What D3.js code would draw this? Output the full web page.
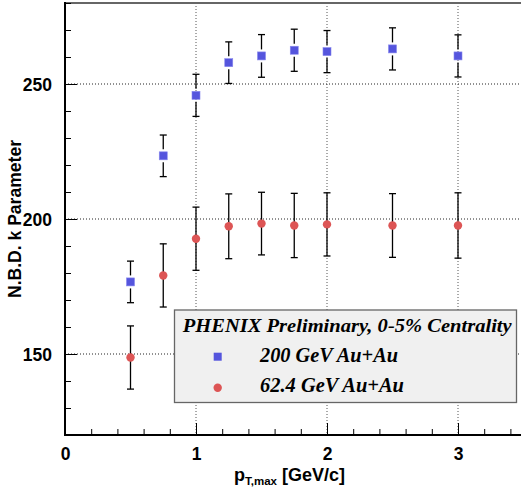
<!DOCTYPE html>
<html><head><meta charset="utf-8">
<script src="https://cdn.jsdelivr.net/npm/d3@7"></script>
<style>html,body{margin:0;padding:0;background:#fff;}</style>
</head><body>
<script>
const ptMax = [0.5, 0.75, 1.0, 1.25, 1.5, 1.75, 2.0, 2.5, 3.0];
const k200 = [176.7, 223.4, 245.8, 257.9, 260.4, 262.5, 262.0, 263.0, 260.4];
const err200 = [7.7, 7.7, 7.8, 7.7, 7.9, 7.8, 7.8, 7.8, 7.8];
const k62 = [148.7, 179.1, 192.7, 197.3, 198.3, 197.6, 198.0, 197.6, 197.6];
const err62 = [11.7, 11.7, 11.7, 12.0, 11.6, 11.9, 11.7, 11.8, 12.1];
const xMajor = [0, 1, 2, 3];
const yMajor = [150, 200, 250];
const legendTitle = "PHENIX Preliminary, 0-5% Centrality";
const legendLabels = ["200 GeV Au+Au", "62.4 GeV Au+Au"];

const W = 521, H = 493;
const L = 65, R = 523.5, T = 3, B = 435;
const svg = d3.select("body").append("svg").attr("width", W).attr("height", H);
const x = d3.scaleLinear().domain([0, 3.5]).range([L, R]);
const y = d3.scaleLinear().domain([120, 280]).range([B, T]);

// grid
const g = svg.append("g");
g.selectAll("line.gx").data(xMajor.filter(d => d > 0)).join("line")
  .attr("x1", d => x(d)).attr("x2", d => x(d)).attr("y1", T).attr("y2", B)
  .attr("stroke", "#555").attr("stroke-width", 1).attr("stroke-dasharray", "1,2");
g.selectAll("line.gy").data(yMajor).join("line")
  .attr("x1", L).attr("x2", R).attr("y1", d => y(d)).attr("y2", d => y(d))
  .attr("stroke", "#222").attr("stroke-width", 1).attr("stroke-dasharray", "1,2");

// frame top
svg.append("line").attr("x1", L).attr("x2", R).attr("y1", T).attr("y2", T)
  .attr("stroke", "#666").attr("stroke-width", 2);

// axes
const xMinor = d3.range(0, 3.5001, 0.2).map(v => +v.toFixed(2)).filter(v => !xMajor.includes(v));
const yMinor = d3.range(120, 280.001, 10).filter(v => v % 50 !== 0);
const ax = svg.append("g").attr("transform", `translate(0,${B})`);
ax.call(d3.axisBottom(x).tickValues(xMajor).tickSize(-12).tickFormat(d3.format("d")).tickPadding(0));
ax.append("g").call(d3.axisBottom(x).tickValues(xMinor).tickSize(-6).tickFormat(""));
ax.selectAll(".domain").remove();
ax.selectAll("line").attr("stroke", "#000").attr("stroke-width", 1);
ax.selectAll("text").attr("font-family", "Liberation Sans, Arial, sans-serif").attr("font-weight", "bold")
  .attr("font-size", 17.5).attr("fill", "#000").attr("y", 25).attr("dy", null);

const ay = svg.append("g").attr("transform", `translate(${L},0)`);
ay.call(d3.axisLeft(y).tickValues(yMajor).tickSize(-12).tickFormat(d3.format("d")).tickPadding(0));
ay.append("g").call(d3.axisLeft(y).tickValues(yMinor).tickSize(-6).tickFormat(""));
ay.selectAll(".domain").remove();
ay.selectAll("line").attr("stroke", "#000").attr("stroke-width", 1);
ay.selectAll("text").attr("font-family", "Liberation Sans, Arial, sans-serif").attr("font-weight", "bold")
  .attr("font-size", 17.5).attr("fill", "#000").attr("x", -13).attr("dy", "0.36em");

svg.append("line").attr("x1", L).attr("x2", R).attr("y1", B).attr("y2", B).attr("stroke", "#000").attr("stroke-width", 2);
svg.append("line").attr("x1", L).attr("x2", L).attr("y1", T - 1).attr("y2", B + 1).attr("stroke", "#000").attr("stroke-width", 2);

// axis titles
svg.append("text").attr("transform", "translate(21,219) rotate(-90)").attr("text-anchor", "middle")
  .attr("font-family", "Liberation Sans, Arial, sans-serif").attr("font-weight", "bold").attr("font-size", 18.5)
  .attr("textLength", 158).attr("lengthAdjust", "spacingAndGlyphs")
  .text("N.B.D. k Parameter");
const xt = svg.append("text").attr("x", 345).attr("y", 481).attr("text-anchor", "end")
  .attr("font-family", "Liberation Sans, Arial, sans-serif").attr("font-weight", "bold").attr("font-size", 18);
xt.append("tspan").text("p");
xt.append("tspan").attr("font-size", 11.5).attr("dy", 4).text("T,max");
xt.append("tspan").attr("dy", -4).text(" [GeV/c]");

// data
const blue = "#5555dd", red = "#dd5555";
function errorBars(vals, errs, gap) {
  const eg = svg.append("g").attr("stroke", "#000").attr("stroke-width", 1.3);
  ptMax.forEach((px, i) => {
    const cx = x(px), cy = y(vals[i]), yt = y(vals[i] + errs[i]), yb = y(vals[i] - errs[i]);
    eg.append("line").attr("x1", cx).attr("x2", cx).attr("y1", yt).attr("y2", cy - gap);
    eg.append("line").attr("x1", cx).attr("x2", cx).attr("y1", cy + gap).attr("y2", yb);
    eg.append("line").attr("x1", cx - 3.5).attr("x2", cx + 3.5).attr("y1", yt).attr("y2", yt);
    eg.append("line").attr("x1", cx - 3.5).attr("x2", cx + 3.5).attr("y1", yb).attr("y2", yb);
  });
}
errorBars(k200, err200, 6.5);
errorBars(k62, err62, 0);
svg.append("g").selectAll("rect").data(ptMax).join("rect")
  .attr("x", (d) => x(d) - 4).attr("y", (d, i) => y(k200[i]) - 4).attr("width", 8).attr("height", 8)
  .attr("fill", blue).attr("stroke", "#8888ee").attr("stroke-width", 0.6);
svg.append("g").selectAll("circle").data(ptMax).join("circle")
  .attr("cx", d => x(d)).attr("cy", (d, i) => y(k62[i])).attr("r", 4.2).attr("fill", red);

// legend
const lg = svg.append("g");
lg.append("rect").attr("x", 174.5).attr("y", 310).attr("width", 342).attr("height", 92.5)
  .attr("fill", "#f0f0f0").attr("stroke", "#666").attr("stroke-width", 1.3);
const serif = "Liberation Serif, Times New Roman, serif";
lg.append("text").attr("x", 182.7).attr("y", 331.7).attr("font-family", serif).attr("font-weight", "bold")
  .attr("font-style", "italic").attr("font-size", 19).attr("textLength", 329).attr("lengthAdjust", "spacingAndGlyphs").text(legendTitle);
lg.append("rect").attr("x", 213.7).attr("y", 352.7).attr("width", 8).attr("height", 8).attr("fill", blue);
lg.append("circle").attr("cx", 217.7).attr("cy", 387.7).attr("r", 4.2).attr("fill", red);
const entryW = [138, 144];
lg.selectAll("text.le").data(legendLabels).join("text").attr("class", "le")
  .attr("x", 260).attr("y", (d, i) => 361.7 + i * 30).attr("font-family", serif).attr("font-weight", "bold")
  .attr("font-style", "italic").attr("font-size", 20)
  .attr("textLength", (d, i) => entryW[i]).attr("lengthAdjust", "spacingAndGlyphs").text(d => d);
</script>
</body></html>
